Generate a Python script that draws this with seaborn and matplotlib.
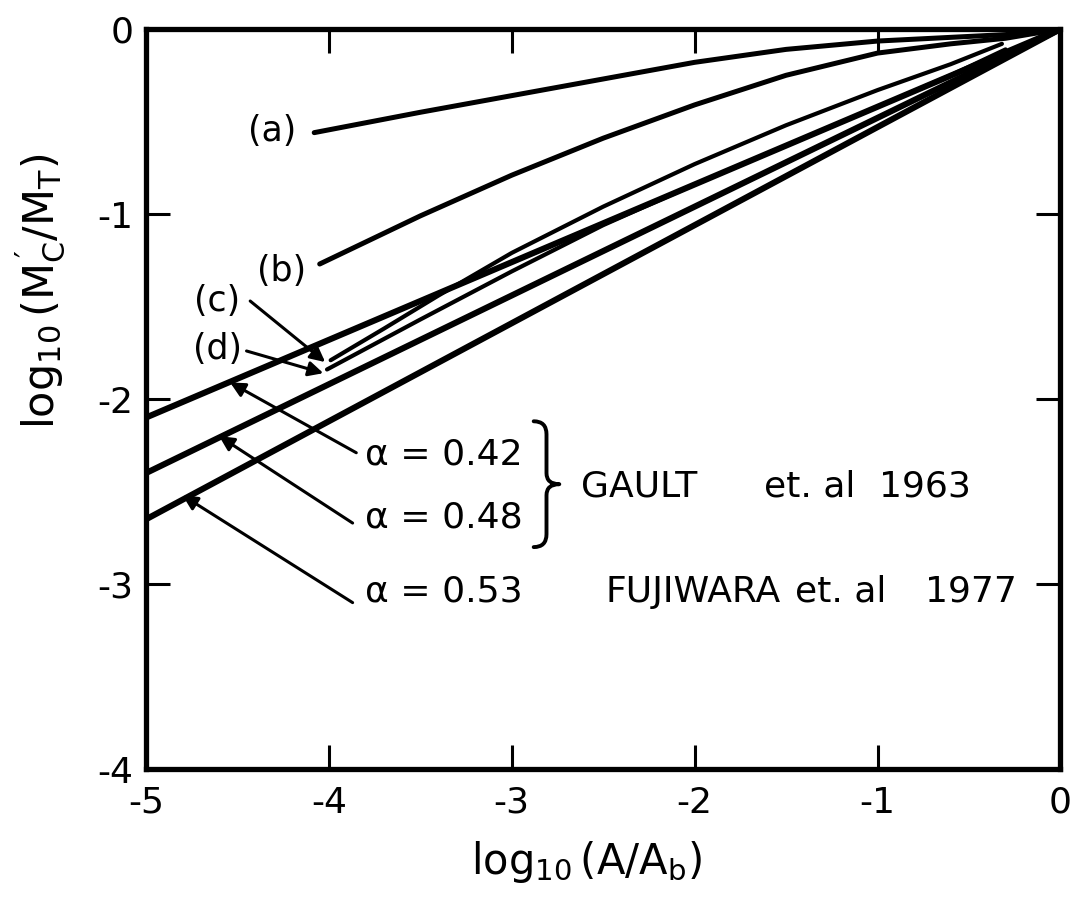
import matplotlib
matplotlib.use("Agg")
import matplotlib.pyplot as plt
from matplotlib.path import Path
from matplotlib.patches import PathPatch
import numpy as np
import pandas as pd
import seaborn as sns

# ---- data ----
x_a = [-4.08, -3.5, -3.0, -2.5, -2.0, -1.5, -1.0, -0.6, -0.3, 0.0]
y_a = [-0.56, -0.45, -0.36, -0.27, -0.18, -0.11, -0.065, -0.045, -0.03, 0.0]

x_b = [-4.05, -3.5, -3.0, -2.5, -2.0, -1.5, -1.0, -0.6, -0.3, 0.0]
y_b = [-1.27, -1.01, -0.79, -0.59, -0.41, -0.25, -0.13, -0.08, -0.05, 0.0]

x_c = [-3.99, -3.7, -3.4, -3.0, -2.5, -2.0, -1.5, -1.0, -0.6, -0.32]
y_c = [-1.79, -1.62, -1.44, -1.21, -0.96, -0.73, -0.52, -0.33, -0.19, -0.08]

x_d = [-4.01, -3.5, -3.0, -2.5, -2.0, -1.5, -1.0, -0.6, -0.30]
y_d = [-1.84, -1.57, -1.31, -1.06, -0.84, -0.63, -0.42, -0.25, -0.11]

alpha_labels = ["α = 0.42", "α = 0.48", "α = 0.53"]
alpha_x = [-5.0, 0.0]
alpha_y042 = [-2.10, 0.0]
alpha_y048 = [-2.40, 0.0]
alpha_y053 = [-2.65, 0.0]

x_ticks = [-5, -4, -3, -2, -1, 0]
y_ticks = [-4, -3, -2, -1, 0]

curve_frames = []
for name, xs, ys in [("a", x_a, y_a), ("b", x_b, y_b), ("c", x_c, y_c), ("d", x_d, y_d),
                     ("0.42", alpha_x, alpha_y042), ("0.48", alpha_x, alpha_y048),
                     ("0.53", alpha_x, alpha_y053)]:
    curve_frames.append(pd.DataFrame({"x": xs, "y": ys, "series": name}))
df = pd.concat(curve_frames, ignore_index=True)

sns.set_style("ticks")
plt.rcParams["font.family"] = ["DejaVu Sans"]
plt.rcParams["axes.unicode_minus"] = False
plt.rcParams["mathtext.default"] = "regular"
plt.rcParams["text.color"] = "black"
plt.rcParams["axes.labelcolor"] = "black"

fig = plt.figure(figsize=(10.81, 9.07), dpi=100)
ax = fig.add_axes([0.135, 0.152, 0.846, 0.816])

widths = {"a": 3.6, "b": 3.6, "c": 3.0, "d": 3.0, "0.42": 4.4, "0.48": 4.4, "0.53": 4.4}
for name, sub in df.groupby("series", sort=False):
    sns.lineplot(data=sub, x="x", y="y", sort=False, estimator=None, color="black",
                 lw=widths[name], ax=ax, solid_capstyle="round", solid_joinstyle="round",
                 legend=False)

ax.set_xlim(-5, 0)
ax.set_ylim(-4, 0)
ax.set_xticks(x_ticks)
ax.set_yticks(y_ticks)
ax.set_xticklabels([str(t) for t in x_ticks])
ax.set_yticklabels([str(t) for t in y_ticks])
ax.tick_params(direction="in", length=17, width=2.2, top=True, right=True,
               labelsize=26, colors="black")
ax.tick_params(axis="x", pad=12)
ax.tick_params(axis="y", pad=9)
for sp in ax.spines.values():
    sp.set_linewidth(3.8)
    sp.set_color("black")

ax.set_xlabel(r"$\mathregular{log_{10}\,(A/A_b)}$", fontsize=30)
ax.set_ylabel(r"$\mathregular{log_{10}\,(M_C^{\,\prime}/M_T)}$", fontsize=31)
ax.xaxis.set_label_coords(0.482, -0.095)
ax.yaxis.set_label_coords(-0.085, 0.645)

fs = 25
ax.text(-4.31, -0.55, "(a)", fontsize=fs, ha="center", va="center")
ax.text(-4.26, -1.31, "(b)", fontsize=fs, ha="center", va="center")
ax.text(-4.61, -1.47, "(c)", fontsize=fs, ha="center", va="center")
ax.text(-4.61, -1.73, "(d)", fontsize=fs, ha="center", va="center")

arrow = dict(arrowstyle="-|>", color="black", lw=2.2, mutation_scale=22, shrinkA=0, shrinkB=0)
ax.annotate("", xy=(-4.02, -1.80), xytext=(-4.43, -1.47), arrowprops=arrow)
ax.annotate("", xy=(-4.03, -1.86), xytext=(-4.45, -1.74), arrowprops=arrow)
ax.annotate("", xy=(-4.54, -1.91), xytext=(-3.85, -2.29), arrowprops=arrow)
ax.annotate("", xy=(-4.60, -2.20), xytext=(-3.87, -2.67), arrowprops=arrow)
ax.annotate("", xy=(-4.80, -2.52), xytext=(-3.87, -3.10), arrowprops=arrow)

tfs = 26
ax.text(-3.80, -2.30, alpha_labels[0], fontsize=tfs, ha="left", va="center")
ax.text(-3.80, -2.64, alpha_labels[1], fontsize=tfs, ha="left", va="center")
ax.text(-3.80, -3.04, alpha_labels[2], fontsize=tfs, ha="left", va="center")
ax.text(-2.49, -3.04, "FUJIWARA", fontsize=tfs, ha="left", va="center")
ax.text(-1.45, -3.04, "et. al", fontsize=tfs, ha="left", va="center")
ax.text(-0.74, -3.04, "1977", fontsize=tfs, ha="left", va="center")
ax.text(-2.62, -2.47, "GAULT", fontsize=tfs, ha="left", va="center")
ax.text(-1.62, -2.47, "et. al", fontsize=tfs, ha="left", va="center")
ax.text(-0.99, -2.47, "1963", fontsize=tfs, ha="left", va="center")

# curly brace joining the two GAULT values
xl, xm, xt = -2.88, -2.81, -2.74
yt, yb, ym = -2.12, -2.80, -2.46
verts = [(xl, yt), (xm, yt), (xm, yt - 0.07),
         (xm, ym + 0.06),
         (xm, ym), (xt, ym),
         (xm, ym), (xm, ym - 0.06),
         (xm, yb + 0.07),
         (xm, yb), (xl, yb)]
codes = [Path.MOVETO, Path.CURVE3, Path.CURVE3,
         Path.LINETO,
         Path.CURVE3, Path.CURVE3,
         Path.CURVE3, Path.CURVE3,
         Path.LINETO,
         Path.CURVE3, Path.CURVE3]
ax.add_patch(PathPatch(Path(verts, codes), fill=False, lw=2.8, color="black",
                       capstyle="round", joinstyle="round"))

fig.savefig("out.png", dpi=100, facecolor="white")
